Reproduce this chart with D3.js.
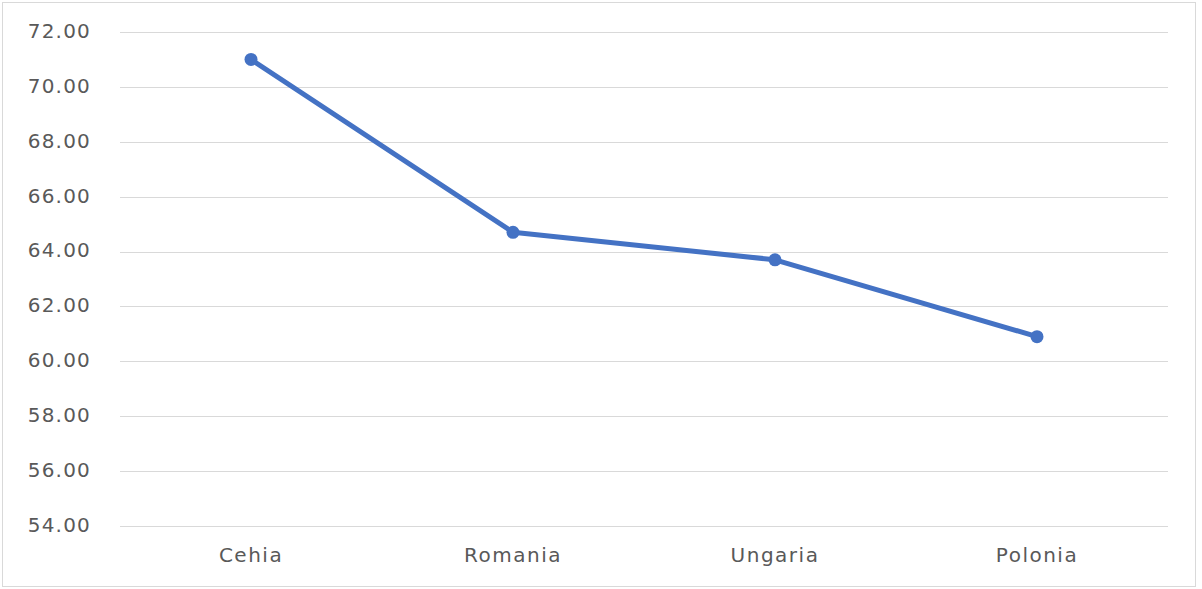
<!DOCTYPE html>
<html lang="en">
<head>
    <meta charset="UTF-8">
    <title>Line chart</title>
    <script src="https://d3js.org/d3.v7.min.js"></script>
    <style>
        body { margin: 0; background: #fff; }
        text { font-family: "DejaVu Sans", sans-serif; fill: #595959; }
    </style>
</head>
<body>
    <script>
        var categories = ['Cehia', 'Romania', 'Ungaria', 'Polonia'];
        var values = [71.0, 64.7, 63.7, 60.9];
        var yTicks = [54, 56, 58, 60, 62, 64, 66, 68, 70, 72];

        var width = 1202, height = 589;
        var margin = { top: 32, right: 34, bottom: 63, left: 120 };

        var svg = d3.select('body').append('svg')
            .attr('width', width).attr('height', height);

        // outer frame
        svg.append('rect')
            .attr('x', 2.5).attr('y', 2.5)
            .attr('width', 1193).attr('height', 584)
            .attr('fill', '#fff').attr('stroke', '#d9d9d9');

        var x = d3.scaleBand().domain(categories)
            .range([margin.left, width - margin.right]);
        var y = d3.scaleLinear().domain([54, 72])
            .range([height - margin.bottom, margin.top]);

        // gridlines
        svg.append('g').selectAll('line').data(yTicks).join('line')
            .attr('x1', margin.left).attr('x2', width - margin.right)
            .attr('y1', function (d) { return Math.round(y(d)) + 0.5; })
            .attr('y2', function (d) { return Math.round(y(d)) + 0.5; })
            .attr('stroke', '#d9d9d9').attr('stroke-width', 1);

        // y axis labels
        var yAxis = d3.axisLeft(y).tickValues(yTicks)
            .tickFormat(d3.format('.2f')).tickSize(0).tickPadding(0);
        svg.append('g').attr('transform', 'translate(91,-1)').call(yAxis)
            .call(function (g) { g.select('.domain').remove(); })
            .selectAll('text').style('font-size', '20px').attr('fill', '#595959')
            .style('letter-spacing', '1.2px');

        // x axis labels
        var xAxis = d3.axisBottom(x).tickSize(0).tickPadding(0);
        svg.append('g').attr('transform', 'translate(0,' + (height - margin.bottom + 22) + ')')
            .call(xAxis)
            .call(function (g) { g.select('.domain').remove(); })
            .selectAll('text').style('font-size', '20px').attr('fill', '#595959')
            .style('letter-spacing', '1.5px');

        var pts = categories.map(function (c, i) { return { c: c, v: values[i] }; });

        var line = d3.line()
            .x(function (d) { return x(d.c) + x.bandwidth() / 2; })
            .y(function (d) { return y(d.v); });

        svg.append('path').datum(pts)
            .attr('d', line)
            .attr('fill', 'none')
            .attr('stroke', '#4472c4')
            .attr('stroke-width', 5)
            .attr('stroke-linejoin', 'round');

        svg.append('g').selectAll('circle').data(pts).join('circle')
            .attr('cx', function (d) { return x(d.c) + x.bandwidth() / 2; })
            .attr('cy', function (d) { return y(d.v); })
            .attr('r', 6.5)
            .attr('fill', '#4472c4');
    </script>
</body>
</html>
